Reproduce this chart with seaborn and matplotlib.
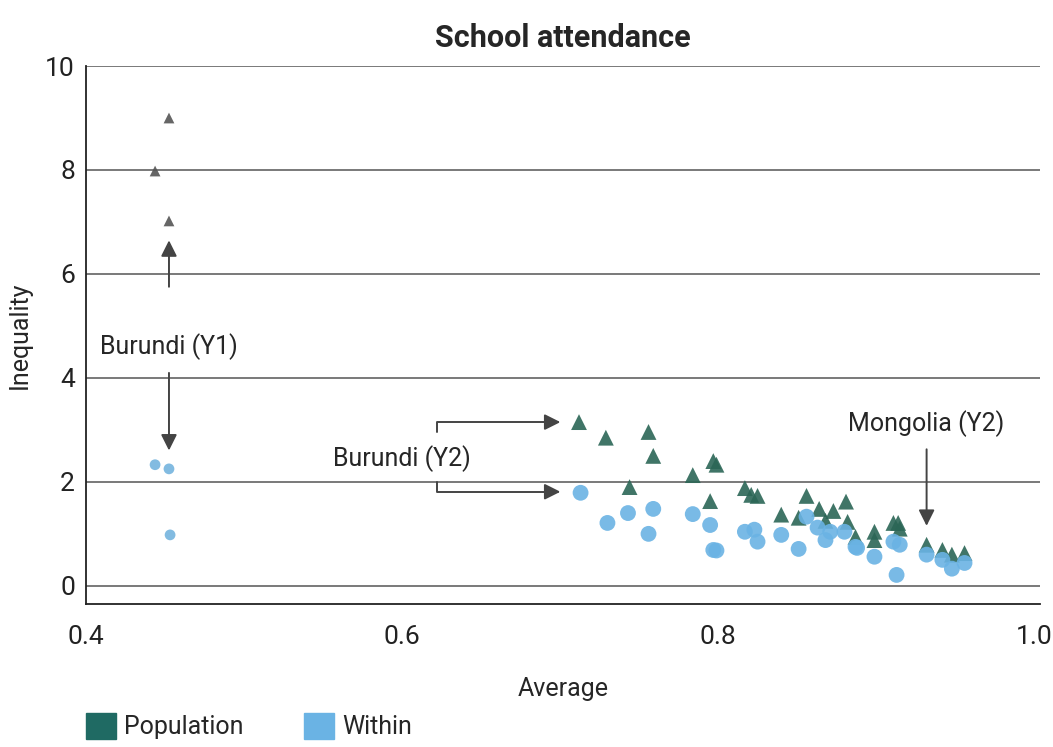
import matplotlib
matplotlib.use("Agg")
import matplotlib.pyplot as plt
import matplotlib.patches as mpatches
import numpy as np
import pandas as pd
import seaborn as sns

# Datos
# Burundi (Y1), puntos a la izquierda
y1_pop_x = [0.4525, 0.4437, 0.4525]
y1_pop_y = [9.0, 7.98, 7.02]
y1_within_x = [0.4437, 0.4525, 0.4532]
y1_within_y = [2.33, 2.25, 0.98]

# Nube principal
pop_x = [0.712, 0.729, 0.756, 0.759, 0.744, 0.784, 0.797, 0.799, 0.795,
         0.817, 0.821, 0.825, 0.856, 0.864, 0.873, 0.881, 0.840, 0.851,
         0.868, 0.882, 0.887, 0.899, 0.899, 0.911, 0.914, 0.915, 0.932,
         0.942, 0.948, 0.956]
pop_y = [3.15, 2.85, 2.96, 2.50, 1.90, 2.13, 2.40, 2.33, 1.63,
         1.88, 1.75, 1.73, 1.73, 1.48, 1.44, 1.62, 1.37, 1.31,
         1.25, 1.23, 0.94, 1.04, 0.88, 1.21, 1.21, 1.10, 0.79,
         0.69, 0.60, 0.63]
within_x = [0.713, 0.730, 0.743, 0.759, 0.756, 0.784, 0.795, 0.797, 0.799,
            0.817, 0.823, 0.825, 0.840, 0.851, 0.856, 0.863, 0.868, 0.871,
            0.880, 0.887, 0.888, 0.899, 0.911, 0.915, 0.913, 0.932, 0.942,
            0.948, 0.956]
within_y = [1.79, 1.21, 1.40, 1.48, 1.00, 1.38, 1.17, 0.69, 0.68,
            1.04, 1.08, 0.85, 0.98, 0.71, 1.33, 1.12, 0.88, 1.04,
            1.04, 0.75, 0.73, 0.56, 0.85, 0.79, 0.21, 0.60, 0.50,
            0.33, 0.44]

color_pop = "#2b6656"
color_within = "#6ab3e4"
color_leg_pop = "#1f6a63"

sns.set_style("white")
plt.rcParams['font.family'] = ['Roboto', 'DejaVu Sans']

fig = plt.figure(figsize=(10.53, 7.47), dpi=100)
ax = fig.add_axes([0.0817, 0.1914, 0.9063, 0.7202])

df = pd.concat([
    pd.DataFrame({'Average': pop_x, 'Inequality': pop_y, 'Serie': 'Population'}),
    pd.DataFrame({'Average': within_x, 'Inequality': within_y, 'Serie': 'Within'}),
])
df_y1 = pd.concat([
    pd.DataFrame({'Average': y1_pop_x, 'Inequality': y1_pop_y, 'Serie': 'Population'}),
    pd.DataFrame({'Average': y1_within_x, 'Inequality': y1_within_y, 'Serie': 'Within'}),
])

# cuadrícula
for v in range(0, 11, 2):
    ax.axhline(v, color="#555555", linewidth=1.1, zorder=0)

sns.scatterplot(data=df_y1, x='Average', y='Inequality', hue='Serie', style='Serie',
                markers={'Population': '^', 'Within': 'o'},
                palette={'Population': '#555555', 'Within': '#74b4de'},
                s=60, edgecolor='none', alpha=0.9, legend=False, ax=ax, zorder=3)
sns.scatterplot(data=df, x='Average', y='Inequality', hue='Serie', style='Serie',
                markers={'Population': '^', 'Within': 'o'},
                palette={'Population': color_pop, 'Within': color_within},
                s=130, edgecolor='none', alpha=0.9, legend=False, ax=ax, zorder=3)

ax.set_xlim(0.4, 1.004)
ax.set_ylim(-0.35, 10)
ax.set_xticks([0.4, 0.6, 0.8, 1.0])
ax.set_xticklabels(['0.4', '0.6', '0.8', '1.0'])
ax.set_yticks([0, 2, 4, 6, 8, 10])
ax.tick_params(axis='both', labelsize=19, colors='#222222')
ax.tick_params(axis='x', direction='out', length=6, width=1.2, pad=9)
ax.tick_params(axis='y', length=0, pad=8)
for side in ['top', 'right']:
    ax.spines[side].set_visible(False)
for side in ['left', 'bottom']:
    ax.spines[side].set_color('#222222')
    ax.spines[side].set_linewidth(1.3)

ax.set_xlabel('Average', fontsize=18, labelpad=20)
ax.set_ylabel('Inequality', fontsize=18, labelpad=10)
ax.set_title('School attendance', fontsize=22, fontweight='bold', pad=14)

# anotaciones
arr = dict(arrowstyle='-|>', color='#444444', lw=1.4, mutation_scale=24)
ax.text(0.4525, 4.6, 'Burundi (Y1)', fontsize=18, ha='center', va='center')
ax.annotate('', xy=(0.4525, 6.7), xytext=(0.4525, 5.7), arrowprops=arr)
ax.annotate('', xy=(0.4525, 2.55), xytext=(0.4525, 4.15), arrowprops=arr)

ax.text(0.6, 2.45, 'Burundi (Y2)', fontsize=18, ha='center', va='center')
elbow = dict(arrowstyle='-|>', color='#444444', lw=1.4, mutation_scale=24,
             connectionstyle='angle,angleA=90,angleB=0,rad=0')
ax.annotate('', xy=(0.702, 3.15), xytext=(0.622, 2.9), arrowprops=elbow)
ax.annotate('', xy=(0.702, 1.81), xytext=(0.622, 2.05), arrowprops=elbow)

ax.text(0.932, 3.12, 'Mongolia (Y2)', fontsize=18, ha='center', va='center')
ax.annotate('', xy=(0.932, 1.1), xytext=(0.932, 2.68), arrowprops=arr)

# leyenda
handles = [mpatches.Patch(color=color_leg_pop, label='Population'),
           mpatches.Patch(color=color_within, label='Within')]
fig.legend(handles=handles, loc='lower left', bbox_to_anchor=(0.06, -0.02), ncol=2,
           frameon=False, fontsize=18, handlelength=1.2, handleheight=1.2,
           handletextpad=0.35, columnspacing=2.4)

plt.savefig('out.png', dpi=100)
